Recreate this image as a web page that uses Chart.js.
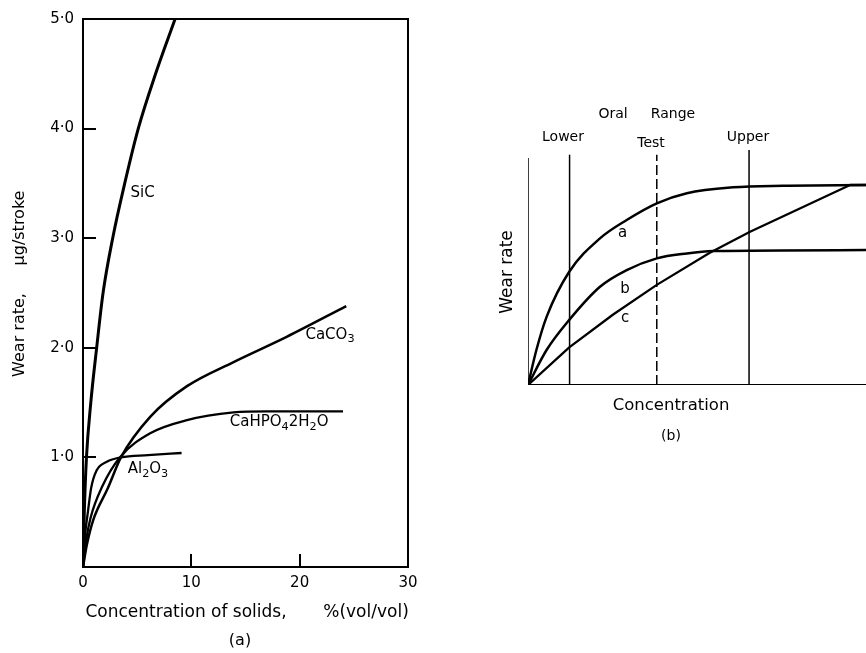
<!DOCTYPE html>
<html>
<head>
<meta charset="utf-8">
<script src="https://cdn.jsdelivr.net/npm/chart.js@4"></script>
<style>
  body { margin: 0; background: #fff; }
  #wrapA { position: absolute; left: 0; top: 0; }
  #wrapB { position: absolute; left: 440px; top: 0; }
</style>
</head>
<body>
<div id="wrapA"><canvas id="chartA" width="440" height="653"></canvas></div>
<div id="wrapB"><canvas id="chartB" width="426" height="653"></canvas></div>
<script>
// (a) wear rate vs concentration of solids
var xTicksA = [0, 10, 20, 30];
var yTicksA = [0, 1, 2, 3, 4, 5];

var sicX = [0, 0.12, 0.32, 0.72, 1.26, 1.85, 2.74, 3.85, 5.1, 6.7, 8.5];
var sicY = [0, 0.5, 1.0, 1.5, 2.0, 2.5, 3.0, 3.5, 4.0, 4.5, 5.0];
var caco3X = [0, 0.35, 0.95, 2.3, 3.5, 6.2, 9.6, 13.9, 18.8, 24.3];
var caco3Y = [0, 0.2, 0.43, 0.72, 1.0, 1.37, 1.65, 1.87, 2.1, 2.38];
var cahpoX = [0, 0.3, 0.7, 1.75, 3.4, 6.2, 9.6, 13.9, 17, 24];
var cahpoY = [0, 0.25, 0.45, 0.73, 1.0, 1.22, 1.34, 1.41, 1.42, 1.42];
var al2o3X = [0, 0.2, 0.45, 0.75, 1.25, 2.2, 3.5, 6, 9.1];
var al2o3Y = [0, 0.3, 0.5, 0.72, 0.88, 0.96, 1.0, 1.02, 1.04];

// (b) schematic wear rate curves, arbitrary units 0-100
var aX = [0, 2.5, 5.5, 12.2, 21.3, 29.2, 38.1, 47, 60.7, 75.5, 100];
var aY = [0, 15, 29, 48.2, 62.4, 70.2, 77.3, 81.6, 84.1, 84.8, 85.1];
var bX = [0, 5.5, 12.2, 21.3, 29.2, 38.1, 47, 54.8, 100];
var bY = [0, 14.9, 27.7, 41.8, 48.9, 53.9, 56, 57, 57.4];
var cX = [0, 12.2, 25.2, 38.1, 53.8, 65.7, 95.3, 100];
var cY = [0, 16, 30, 42.6, 56.3, 65.2, 85.1, 85.1];
var lowerX = 12.3;
var testX = 38.1;
var upperX = 65.4;
var axisTopB = 96.6;
var markTopB = [98, 98, 100];

Chart.defaults.font.family = 'DejaVu Sans';
Chart.defaults.color = '#000';

function pts(xs, ys) {
    return xs.map(function (x, i) { return { x: x, y: ys[i] }; });
}

function curve(label, xs, ys, w, straight) {
    return {
        label: label,
        data: pts(xs, ys),
        borderColor: '#000',
        borderWidth: w,
        pointRadius: 0,
        fill: false,
        borderJoinStyle: 'round',
        cubicInterpolationMode: straight ? 'default' : 'monotone',
        tension: straight ? 0 : 0.4,
    };
}

function segment(label, x1, y1, x2, y2, w, dash) {
    return {
        label: label,
        data: [{ x: x1, y: y1 }, { x: x2, y: y2 }],
        borderColor: '#000',
        borderWidth: w,
        borderDash: dash || [],
        pointRadius: 0,
        fill: false,
    };
}

// text with subscripts: parts = [[text, isSub], ...]
function drawRich(ctx, parts, cx, cy, size) {
    var total = 0;
    parts.forEach(function (p) {
        ctx.font = (p[1] ? size * 0.75 : size) + 'px "DejaVu Sans"';
        total += ctx.measureText(p[0]).width;
    });
    var x = cx - total / 2;
    ctx.textAlign = 'left';
    ctx.textBaseline = 'middle';
    parts.forEach(function (p) {
        ctx.font = (p[1] ? size * 0.75 : size) + 'px "DejaVu Sans"';
        ctx.fillText(p[0], x, p[1] ? cy + size * 0.3 : cy);
        x += ctx.measureText(p[0]).width;
    });
}

function text(ctx, s, x, y, size, rot) {
    ctx.save();
    ctx.font = size + 'px "DejaVu Sans"';
    ctx.fillStyle = '#000';
    ctx.textAlign = 'center';
    ctx.textBaseline = 'middle';
    ctx.translate(x, y);
    if (rot) ctx.rotate(rot);
    ctx.fillText(s, 0, 0);
    ctx.restore();
}

var framePlugin = {
    id: 'frameA',
    afterDraw: function (chart) {
        var ctx = chart.ctx;
        var a = chart.chartArea;
        var xs = chart.scales.x;
        var ys = chart.scales.y;
        ctx.save();
        ctx.strokeStyle = '#000';
        ctx.lineWidth = 2;
        ctx.strokeRect(a.left, a.top, a.right - a.left, a.bottom - a.top);
        // inward tick marks
        ctx.beginPath();
        [1, 2, 3, 4].forEach(function (v) {
            var py = Math.round(ys.getPixelForValue(v));
            ctx.moveTo(a.left, py);
            ctx.lineTo(a.left + 13, py);
        });
        [10, 20].forEach(function (v) {
            var px = Math.round(xs.getPixelForValue(v));
            ctx.moveTo(px, a.bottom);
            ctx.lineTo(px, a.bottom - 13);
        });
        ctx.stroke();
        ctx.fillStyle = '#000';
        // curve labels
        drawRich(ctx, [['SiC', 0]], xs.getPixelForValue(5.5), ys.getPixelForValue(3.41), 15);
        drawRich(ctx, [['CaCO', 0], ['3', 1]], xs.getPixelForValue(22.8), ys.getPixelForValue(2.12), 15);
        drawRich(ctx, [['CaHPO', 0], ['4', 1], ['2H', 0], ['2', 1], ['O', 0]], xs.getPixelForValue(18.1), ys.getPixelForValue(1.32), 15);
        drawRich(ctx, [['Al', 0], ['2', 1], ['O', 0], ['3', 1]], xs.getPixelForValue(6.0), ys.getPixelForValue(0.89), 15);
        // axis titles
        text(ctx, 'Wear rate,', 20, 335, 16, -Math.PI / 2);
        text(ctx, '\u03bcg/stroke', 20, 228, 16, -Math.PI / 2);
        text(ctx, 'Concentration of solids,', 186, 613, 17);
        text(ctx, '%(vol/vol)', 366, 613, 17);
        text(ctx, '(a)', 240, 641, 16);
        ctx.restore();
    },
};

var chartA = new Chart(document.getElementById('chartA').getContext('2d'), {
    type: 'line',
    data: {
        datasets: [
            curve('SiC', sicX, sicY, 3),
            curve('CaCO3', caco3X, caco3Y, 2.5),
            curve('CaHPO4 2H2O', cahpoX, cahpoY, 2.3),
            curve('Al2O3', al2o3X, al2o3Y, 2.3),
        ],
    },
    options: {
        responsive: false,
        animation: false,
        layout: { padding: { left: 0, top: 19, right: 32, bottom: 56 } },
        plugins: { legend: { display: false }, tooltip: { enabled: false } },
        scales: {
            x: {
                type: 'linear',
                min: xTicksA[0],
                max: xTicksA[xTicksA.length - 1],
                afterFit: function (s) { s.height = 30; },
                afterBuildTicks: function (s) { s.ticks = xTicksA.map(function (v) { return { value: v }; }); },
                grid: { display: false, drawTicks: false },
                border: { display: true, color: '#000', width: 2 },
                ticks: { padding: 7, font: { size: 15 }, color: '#000' },
            },
            y: {
                type: 'linear',
                min: yTicksA[0],
                max: yTicksA[yTicksA.length - 1],
                afterFit: function (s) { s.width = 83; },
                afterBuildTicks: function (s) { s.ticks = yTicksA.map(function (v) { return { value: v }; }); },
                grid: { display: false, drawTicks: false },
                border: { display: true, color: '#000', width: 2 },
                ticks: {
                    padding: 9,
                    font: { size: 15 },
                    color: '#000',
                    callback: function (v) { return v === 0 ? '' : v.toFixed(1).replace('.', '\u00b7'); },
                },
            },
        },
    },
    plugins: [framePlugin],
});

var labelPluginB = {
    id: 'labelsB',
    afterDraw: function (chart) {
        var ctx = chart.ctx;
        var xs = chart.scales.x;
        var ys = chart.scales.y;
        var off = 440;
        ctx.save();
        text(ctx, 'Oral', 613 - off, 114, 14);
        text(ctx, 'Range', 673 - off, 114, 14);
        text(ctx, 'Lower', 563 - off, 137, 14);
        text(ctx, 'Test', 651 - off, 143, 14);
        text(ctx, 'Upper', 748 - off, 137, 14);
        text(ctx, 'a', xs.getPixelForValue(28), ys.getPixelForValue(64.5), 15);
        text(ctx, 'b', xs.getPixelForValue(28.7), ys.getPixelForValue(41), 15);
        text(ctx, 'c', xs.getPixelForValue(28.7), ys.getPixelForValue(28.3), 15);
        text(ctx, 'Wear rate', 508 - off, 272, 17, -Math.PI / 2);
        text(ctx, 'Concentration', 671 - off, 406, 16.5);
        text(ctx, '(b)', 671 - off, 436, 14);
        ctx.restore();
    },
};

var chartB = new Chart(document.getElementById('chartB').getContext('2d'), {
    type: 'line',
    data: {
        datasets: [
            segment('axis y', 0, 0, 0, axisTopB, 1.5),
            segment('axis x', 0, 0, 100, 0, 2),
            segment('Lower', lowerX, 0, lowerX, markTopB[0], 1.5),
            segment('Test', testX, 0, testX, markTopB[1], 1.5, [10, 4]),
            segment('Upper', upperX, 0, upperX, markTopB[2], 1.5),
            curve('a', aX, aY, 2.5),
            curve('b', bX, bY, 2.5),
            curve('c', cX, cY, 2.3, true),
        ],
    },
    options: {
        responsive: false,
        animation: false,
        layout: { padding: { left: 88, top: 150, right: 0, bottom: 268 } },
        plugins: { legend: { display: false }, tooltip: { enabled: false } },
        scales: {
            x: { type: 'linear', display: false, min: 0, max: 100 },
            y: { type: 'linear', display: false, min: 0, max: 100 },
        },
    },
    plugins: [labelPluginB],
});
</script>
</body>
</html>
